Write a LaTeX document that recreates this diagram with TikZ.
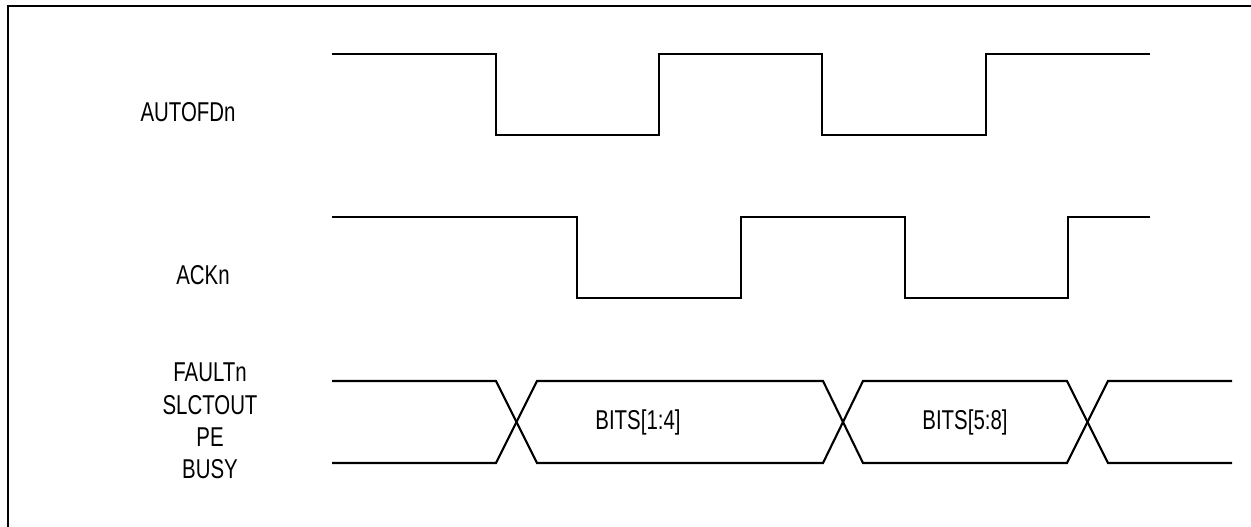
\documentclass[tikz,border=0pt]{standalone}
\usepackage{fontspec}
\setmainfont[FakeStretch=0.75]{Liberation Sans}
\begin{document}
\begin{tikzpicture}[x=0.02cm,y=-0.02cm,
  sig/.style={line width=1.2pt},
  lbl/.style={font=\fontsize{15.5}{18.4}\selectfont}]
\useasboundingbox (0,0) rectangle (1251,527);
\draw[line width=1.6pt] (1251,6) -- (8,6) -- (8,527);
% AUTOFDn
\draw[sig] (332,54) -- (496,54) -- (496,135) -- (659,135) -- (659,54) -- (822,54)
      -- (822,135) -- (986,135) -- (986,54) -- (1150,54);
\node[lbl] (autofd) at (188,112) {AUTOFDn};
% ACKn
\draw[sig] (332,217) -- (577,217) -- (577,298) -- (741,298) -- (741,217) -- (905,217)
      -- (905,298) -- (1068,298) -- (1068,217) -- (1150,217);
\node[lbl] (ack) at (203,275) {ACKn};
% status bus
\draw[sig] (332,381) -- (496,381) -- (537,463) -- (823,463) -- (863,381) -- (1067,381)
      -- (1108,463) -- (1232,463);
\draw[sig] (332,463) -- (496,463) -- (537,381) -- (823,381) -- (863,463) -- (1067,463)
      -- (1108,381) -- (1232,381);
\node[lbl] (bitslo) at (638,422) {BITS[1:4]};
\node[lbl] (bitshi) at (965,422) {BITS[5:8]};
\node[lbl,align=center] (status) at (210,421) {FAULTn\\SLCTOUT\\PE\\BUSY};
\end{tikzpicture}
\end{document}
